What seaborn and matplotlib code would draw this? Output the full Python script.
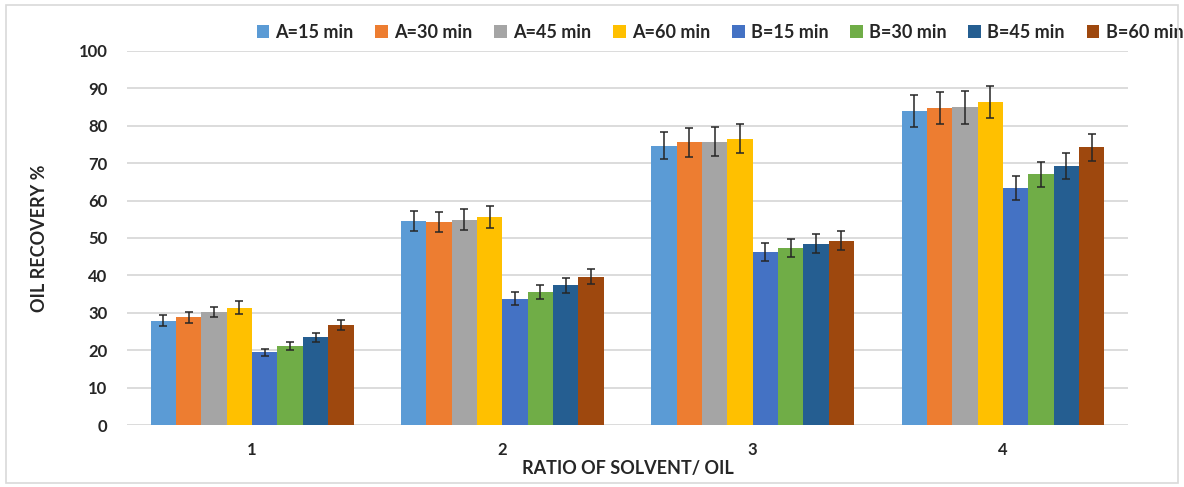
import matplotlib.pyplot as plt
import pandas as pd
import seaborn as sns
from matplotlib.patches import Rectangle


ratios = ["1", "2", "3", "4"]
series_names = [
    "A=15 min", "A=30 min", "A=45 min", "A=60 min",
    "B=15 min", "B=30 min", "B=45 min", "B=60 min",
]

# oil recovery (%) per series, one value per ratio
a15 = [27.9, 54.6, 74.7, 84.0]
a30 = [28.8, 54.3, 75.6, 84.7]
a45 = [30.2, 54.9, 75.8, 84.9]
a60 = [31.4, 55.6, 76.6, 86.4]
b15 = [19.4, 33.8, 46.3, 63.3]
b30 = [21.1, 35.5, 47.3, 67.0]
b45 = [23.4, 37.3, 48.5, 69.2]
b60 = [26.7, 39.7, 49.3, 74.2]

# error bar half-lengths
a15_err = [1.5, 2.75, 3.7, 4.35]
a30_err = [1.5, 2.7, 3.9, 4.3]
a45_err = [1.45, 2.75, 3.9, 4.3]
a60_err = [1.7, 2.9, 3.9, 4.3]
b15_err = [1.0, 1.65, 2.4, 3.2]
b30_err = [1.15, 1.9, 2.4, 3.3]
b45_err = [1.25, 1.9, 2.5, 3.5]
b60_err = [1.4, 1.9, 2.45, 3.7]

colors = [
    "#5B9BD5", "#ED7D31", "#A5A5A5", "#FFC000",
    "#4472C4", "#70AD47", "#255E91", "#9E480E",
]


def main():
    values = [a15, a30, a45, a60, b15, b30, b45, b60]
    errors = [a15_err, a30_err, a45_err, a60_err, b15_err, b30_err, b45_err, b60_err]

    rows = []
    for name, vals in zip(series_names, values):
        for ratio, v in zip(ratios, vals):
            rows.append({"ratio": ratio, "series": name, "recovery": v})
    df = pd.DataFrame(rows)

    sns.set_style("white")
    plt.rcParams["font.family"] = ["Lato", "DejaVu Sans"]
    plt.rcParams["font.weight"] = "bold"

    fig = plt.figure(figsize=(11.84, 4.87), dpi=100)
    ax = fig.add_axes([0.1073, 0.1273, 0.8454, 0.768])

    sns.barplot(
        data=df,
        x="ratio",
        y="recovery",
        hue="series",
        hue_order=series_names,
        order=ratios,
        palette=colors,
        width=0.81,
        errorbar=None,
        saturation=1,
        linewidth=0,
        ax=ax,
    )

    for container, errs in zip(ax.containers, errors):
        xs = [bar.get_x() + bar.get_width() / 2 for bar in container]
        hs = [bar.get_height() for bar in container]
        ax.errorbar(
            xs, hs, yerr=errs, fmt="none", ecolor="#262626",
            elinewidth=1.1, capsize=3.2, capthick=1.1, zorder=5,
        )

    ax.set_ylim(0, 100)
    ax.set_xlim(-0.5, 3.5)
    ax.set_yticks(range(0, 101, 10))
    ax.grid(axis="y", color="#D9D9D9", linewidth=1.3)
    ax.set_axisbelow(True)
    for side in ["top", "right", "left", "bottom"]:
        ax.spines[side].set_visible(False)
    ax.tick_params(axis="both", length=0, labelsize=12, colors="#262626")
    ax.tick_params(axis="y", pad=14)
    ax.tick_params(axis="x", pad=12)
    for label in ax.get_xticklabels() + ax.get_yticklabels():
        label.set_fontweight("bold")

    ax.set_xlabel("RATIO OF SOLVENT/ OIL", fontsize=13, fontweight="bold",
                  color="#262626")
    ax.xaxis.set_label_coords(0.5, -0.094)
    ax.set_ylabel("OIL RECOVERY %", fontsize=13, fontweight="bold",
                  color="#262626", labelpad=22)

    ax.legend(
        loc="center",
        bbox_to_anchor=(0.608, 0.933),
        bbox_transform=fig.transFigure,
        ncol=8,
        frameon=False,
        handlelength=0.7,
        handleheight=0.7,
        handletextpad=0.35,
        columnspacing=1.2,
        prop={"weight": "bold", "size": 13},
    )

    fig.patches.append(
        Rectangle((0.005, 0.008), 0.99, 0.982, transform=fig.transFigure,
                  fill=False, edgecolor="#D9D9D9", linewidth=1.2)
    )

    fig.savefig("out.png", dpi=100)
    plt.close(fig)


if __name__ == "__main__":
    main()
